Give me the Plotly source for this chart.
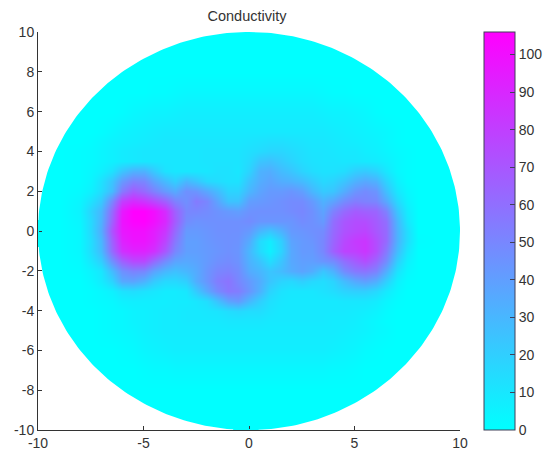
import numpy as np
import plotly.graph_objects as go

x_grid = [-10, -9, -8, -7.5, -7, -6.5, -6, -5.5, -5, -4.5, -4, -3.5, -3, -2.5, -2, -1.5, -1, -0.5, 0,
          0.5, 1, 1.5, 2, 2.5, 3, 3.5, 4, 4.5, 5, 5.5, 6, 6.5, 7, 7.5, 8, 9, 10]
y_grid = [10, 9, 8, 7, 6, 5, 4.5, 4, 3.5, 3, 2.5, 2, 1.5, 1, 0.5, 0, -0.5, -1, -1.5, -2, -2.5, -3, -3.5, -4,
          -4.5, -5, -6, -7, -8, -9, -10]
conductivity = [
    [0]*37,
    [0]*37,
    [0]*37,
    [0,0, 0,0,0,0,0,0,0,1,1,2,3,3,3,3,3,3,3, 3,3,3,3,3,3,2,1,1,0,0,0,0,0,0,0, 0,0],
    [0,0, 0,0,0,0,1,3,4,5,5,6,7,7,7,7,7,7,7, 7,7,7,7,7,7,6,5,5,4,3,1,0,0,0,0, 0,0],
    [0,0, 0,0,1,3,5,6,7,8,9,9,9,9,9,9,9,9,9, 9,9,9,9,9,9,9,8,7,6,5,4,3,1,0,0, 0,0],
    [0,0, 0,1,3,5,6,7,8,9,10,10,10,10,10,10,10,10,11, 12,13,13,12,11,10,10,9,8,7,6,5,3,1,0,0, 0,0],
    [0,0, 1,2,4,6,8,9,10,10,10,10,10,10,11,11,11,11,13, 15,17,17,15,13,11,11,10,9,9,7,6,4,2,1,0, 0,0],
    [0,0, 1,2,4,6,8,9,10,10,10,10,10,10,11,11,11,11,15, 24,26,22,18,14,12,11,11,10,10,9,8,6,3,1,0, 0,0],
    [0,0, 1,3,6,12,24,32,32,22,12,10,10,10,10,12,12,10,18, 32,34,28,24,18,14,12,12,14,20,22,18,10,3,1,0, 0,0],
    [0,0, 1,4,12,24,42,52,50,38,28,20,30,24,16,14,12,12,25, 34,38,34,32,28,22,16,18,24,32,36,32,18,6,1,0, 0,0],
    [0,0, 2,6,14,28,55,68,62,52,42,35,46,44,36,28,18,18,30, 38,42,42,44,40,30,22,24,34,44,48,44,26,10,3,0, 0,0],
    [0,0, 4,12,22,50,80,88,84,76,66,52,46,55,50,38,25,25,40, 42,44,46,48,48,42,32,38,48,54,52,50,36,16,5,0, 0,0],
    [0,0, 5,18,30,62,95,106,106,100,88,66,50,50,48,45,42,40,45, 46,46,46,48,50,46,38,52,62,68,66,64,52,24,8,0, 0,0],
    [0,0, 4,16,32,66,98,105,106,100,90,68,48,45,46,46,46,46,48, 44,44,44,44,48,46,42,60,70,74,74,68,60,30,10,0, 0,0],
    [0,0, 3,16,34,72,96,100,100,94,84,62,42,42,44,46,46,46,42, 30,24,32,42,44,46,48,62,72,76,78,70,62,32,14,0, 0,0],
    [0,0, 3,14,30,66,92,98,98,92,78,56,40,40,43,45,46,45,35, 15,8,20,38,42,44,50,64,76,82,84,74,62,32,14,1, 0,0],
    [0,0, 3,14,28,62,86,92,92,86,70,50,40,40,42,44,46,44,30, 15,6,18,36,42,42,50,66,78,80,84,74,56,28,10,0, 0,0],
    [0,0, 2,10,20,46,66,76,76,62,48,38,36,38,42,46,48,45,32, 24,14,24,36,40,40,44,48,60,68,74,64,48,20,6,0, 0,0],
    [0,0, 1,5,10,28,46,52,50,38,30,26,30,35,44,50,52,48,35, 30,24,28,34,38,34,24,32,48,56,58,52,34,12,3,0, 0,0],
    [0,0, 0,3,8,18,36,38,32,22,16,16,20,34,44,54,58,50,42, 34,24,18,16,20,16,14,18,28,36,40,34,20,6,1,0, 0,0],
    [0,0, 0,1,3,6,12,14,12,10,8,8,10,22,36,48,56,54,44, 32,18,12,10,10,10,12,14,18,20,20,16,9,3,0,0, 0,0],
    [0,0, 0,1,2,3,6,7,7,7,7,8,8,10,14,25,38,42,30, 20,13,10,9,9,9,9,9,10,10,10,8,4,1,0,0, 0,0],
    [0,0, 0,0,1,2,3,5,6,7,8,8,9,9,10,11,14,16,14, 14,11,9,9,9,9,9,9,9,8,7,5,2,0,0,0, 0,0],
    [0,0, 0,0,1,2,3,5,6,7,8,8,9,9,9,9,10,10,10, 10,9,9,9,9,9,9,8,8,7,5,3,1,0,0,0, 0,0],
    [0,0, 0,0,1,2,3,4,6,7,8,8,8,8,8,8,8,8,8, 8,8,8,8,8,8,8,8,7,6,5,3,2,0,0,0, 0,0],
    [0,0, 0,0,0,0,1,2,4,5,6,7,7,7,7,7,7,7,7, 7,7,7,7,7,7,7,6,5,4,2,1,0,0,0,0, 0,0],
    [0,0, 0,0,0,0,0,0,1,2,2,3,3,3,3,3,3,3,3, 3,3,3,3,3,3,3,2,2,1,0,0,0,0,0,0, 0,0],
    [0]*37,
    [0]*37,
    [0]*37,
]
y_ticks = [-10, -8, -6, -4, -2, 0, 2, 4, 6, 8, 10]
y_tick_labels = ["-10", "-8", "-6", "-4", "-2", "0", "2", "4", "6", "8", "10"]
x_ticks = [-10, -5, 0, 5, 10]
x_tick_labels = ["-10", "-5", "0", "5", "10"]
cbar_ticks = [0, 10, 20, 30, 40, 50, 60, 70, 80, 90, 100]
z_max = 106
disc_radius = 10

FONT = "Liberation Sans"
INK = "#333333"
CB_X = 1.057
PLOT_W = 422

fig = go.Figure()
fig.add_trace(go.Heatmap(
    x=x_grid, y=y_grid, z=conductivity, zmin=0, zmax=z_max, zsmooth="best",
    colorscale=[[0, "#00ffff"], [1, "#ff00ff"]],
    hoverinfo="skip",
    colorbar=dict(
        x=CB_X, xanchor="left", xpad=0, y=0, yanchor="bottom", ypad=0,
        len=1, lenmode="fraction", thickness=31, thicknessmode="pixels",
        outlinecolor="#404058", outlinewidth=1, tickvals=cbar_ticks,
        ticks="inside", ticklen=5, tickcolor="#404058", ticklabelposition="outside",
        tickfont=dict(family=FONT, size=14, color=INK),
    ),
))

# White surround that trims the colour field to the disc (one keyhole outline)
t = np.linspace(0, -2 * np.pi, 361)
s = disc_radius + 0.3
mask_x = [s, s, -s, -s, s, s] + list(disc_radius * np.cos(t))
mask_y = [0, s, s, -s, -s, 0] + list(disc_radius * np.sin(t))
fig.add_trace(go.Scatter(
    x=mask_x, y=mask_y, mode="lines", fill="toself", fillcolor="white",
    line=dict(width=0), hoverinfo="skip", showlegend=False,
))

# Tick marks on the left edge of the colour bar
for v in cbar_ticks[1:]:
    fig.add_shape(type="line", xref="paper", yref="paper", x0=CB_X, x1=CB_X + 5 / PLOT_W,
                  y0=v / z_max, y1=v / z_max, line=dict(color="#404058", width=1))

# The disc paints over the axis lines where it touches them
fig.add_shape(type="line", x0=-0.75, x1=0.45, y0=-disc_radius, y1=-disc_radius,
              line=dict(color="#00ffff", width=2))
fig.add_shape(type="line", y0=-0.8, y1=0.55, x0=-disc_radius, x1=-disc_radius,
              line=dict(color="#00ffff", width=2))

axis_common = dict(
    showgrid=False, zeroline=False, showline=True, linecolor=INK, linewidth=1,
    ticks="inside", ticklen=4, tickcolor=INK, mirror=False,
    tickfont=dict(family=FONT, size=14, color=INK), range=[-10, 10],
)
fig.update_xaxes(tickvals=x_ticks, ticktext=x_tick_labels, **axis_common)
fig.update_yaxes(tickvals=y_ticks, ticktext=y_tick_labels, **axis_common)
fig.update_layout(
    width=545, height=457, paper_bgcolor="white", plot_bgcolor="white",
    margin=dict(l=38, r=85, t=32, b=27, autoexpand=False), showlegend=False,
    title=dict(text="Conductivity", x=247 / 545, xanchor="center", y=1 - 16 / 457,
               yanchor="middle", font=dict(family=FONT, size=14.5, color=INK)),
)
fig.write_html("out.html", config={"displayModeBar": False},
               post_script="document.body.style.margin='0';")
